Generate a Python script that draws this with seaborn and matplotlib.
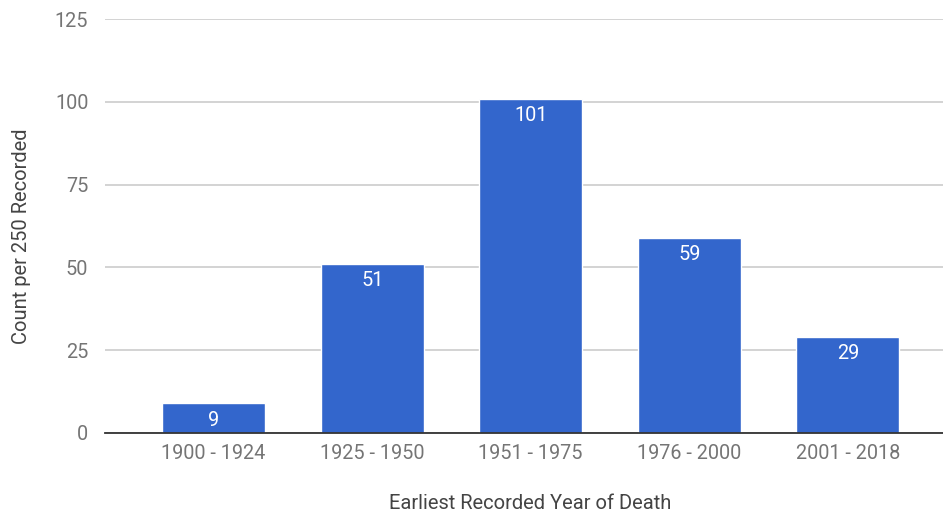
import matplotlib
matplotlib.use("Agg")
import matplotlib.pyplot as plt
import seaborn as sns
import pandas as pd

# Data
periods = ["1900 - 1924", "1925 - 1950", "1951 - 1975", "1976 - 2000", "2001 - 2018"]
counts = [9, 51, 101, 59, 29]
y_ticks = [0, 25, 50, 75, 100, 125]

sns.set_theme(style="white")
plt.rcParams["font.family"] = ["Roboto", "DejaVu Sans"]

df = pd.DataFrame({"period": periods, "count": counts})

fig = plt.figure(figsize=(9.43, 5.14), dpi=100)
ax = fig.add_axes([0.1113, 0.1576, 0.8887, 0.8054])

sns.barplot(data=df, x="period", y="count", color="#3366cc", saturation=1,
            width=0.65, ax=ax, zorder=3)

ax.set_ylim(0, 125)
ax.set_xlim(-0.685, 4.6)
ax.set_yticks(y_ticks)
ax.yaxis.grid(True, color="#cccccc", linewidth=1.2, zorder=0)
ax.xaxis.grid(False)
for s in ["top", "right", "left"]:
    ax.spines[s].set_visible(False)
ax.spines["bottom"].set_color("#333333")
ax.spines["bottom"].set_linewidth(1.3)
ax.spines["bottom"].set_zorder(4)

ax.tick_params(axis="both", length=0, labelsize=14.3, labelcolor="#757575")
ax.tick_params(axis="x", pad=8)
ax.tick_params(axis="y", pad=12)

ax.set_xlabel("Earliest Recorded Year of Death", fontsize=14.5, color="#444444", labelpad=22)
ax.set_ylabel("Count per 250 Recorded", fontsize=14.5, color="#444444", labelpad=17)
ax.xaxis.label.set_x(0.507)
ax.yaxis.label.set_y(0.476)

for container in ax.containers:
    ax.bar_label(container, labels=[str(v) for v in counts], padding=-19,
                 color="white", fontsize=14.3, zorder=5)

fig.savefig("out.png", dpi=100)
